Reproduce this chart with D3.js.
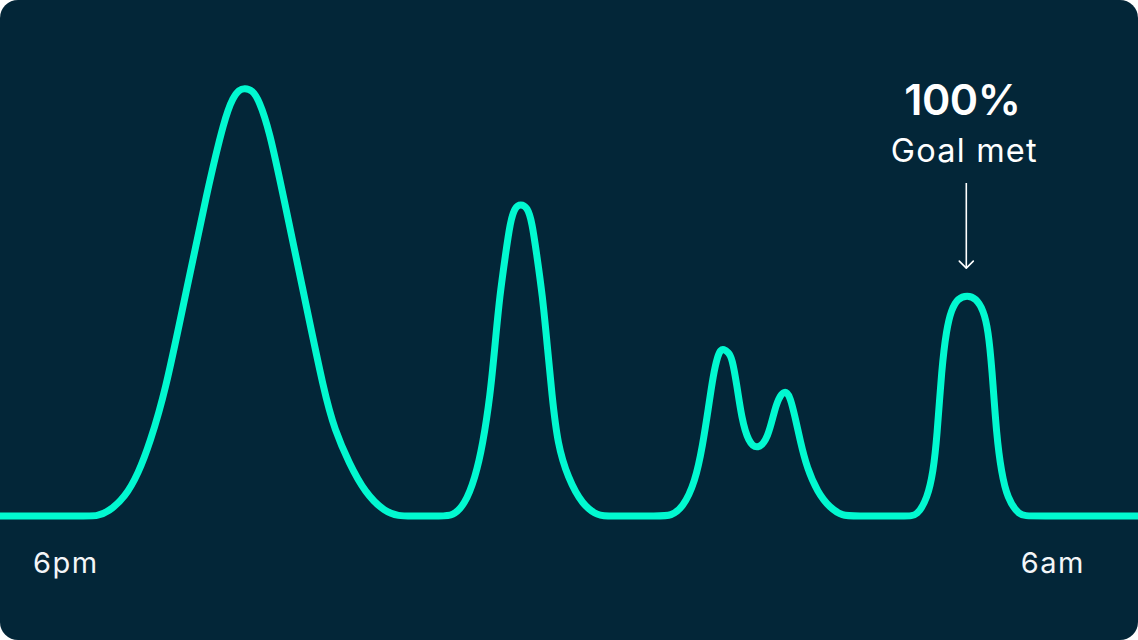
<!DOCTYPE html>
<html>
<head>
<meta charset="utf-8">
<script src="https://cdn.jsdelivr.net/npm/d3@7/dist/d3.min.js"></script>
<style>
  html, body { margin: 0; padding: 0; background: #ffffff; }
  svg { display: block; }
  text { font-family: Inter, "Noto Sans", sans-serif; }
</style>
</head>
<body>
<svg id="chart" width="1138" height="640"></svg>
<script>
// Hours after 6pm
const hours = [
  0.00, 0.92, 1.02, 1.14, 1.32, 1.46, 1.58, 1.74, 1.96, 2.18, 2.37, 2.46, 2.52, 2.58, 2.66, 2.73, 2.84, 2.99, 3.21, 3.42, 3.53, 3.68, 3.85, 4.06, 4.21, 4.31,
  4.67, 4.77, 4.90, 5.01, 5.09, 5.17, 5.22, 5.27, 5.33, 5.38, 5.43, 5.49, 5.56, 5.61, 5.66, 5.72, 5.77, 5.82, 5.88, 5.99, 6.14, 6.31, 6.41,
  6.97, 7.07, 7.20, 7.33, 7.41, 7.47, 7.52, 7.57, 7.60, 7.63, 7.68, 7.72, 7.77, 7.82, 7.89, 7.99, 8.10, 8.17, 8.23, 8.27, 8.30, 8.33, 8.38, 8.44, 8.51, 8.62, 8.75, 8.89, 8.99,
  9.57, 9.67, 9.78, 9.84, 9.88, 9.93, 9.98, 10.03, 10.10, 10.20, 10.29, 10.37, 10.42, 10.46, 10.51, 10.56, 10.62, 10.75, 10.85, 12.00
];
// Activity level (relative, highest peak = 100)
const levels = [
  0, 0, 0, 0.9, 4.4, 10.0, 17.1, 28.7, 52.1, 75.5, 93.2, 97.9, 99.6, 100, 99.5, 97.2, 90.2, 74.5, 51.2, 28.7, 20.1, 12.4, 5.4, 0.9, 0, 0,
  0, 0, 2.6, 8.9, 16.6, 28.3, 40.0, 51.6, 61.0, 68.7, 72.2, 72.9, 72.2, 68.7, 61.0, 51.6, 40.0, 28.3, 16.6, 8.9, 2.6, 0, 0,
  0, 0, 1.9, 7.9, 16.6, 25.2, 32.9, 37.6, 38.8, 39.0, 38.3, 36.9, 30.6, 22.9, 17.3, 15.4, 18.2, 25.2, 28.3, 29.0, 28.8, 27.8, 23.6, 17.3, 11.2, 5.6, 1.9, 0, 0,
  0, 0, 4.2, 10.3, 18.2, 34.6, 43.5, 48.1, 50.9, 51.6, 50.9, 48.1, 43.5, 34.6, 18.2, 10.3, 4.2, 0, 0, 0
];
const tickHours = [0, 12];
const tickLabels = ["6pm", "6am"];
const goalHour = 10.20;
const goalLevel = 51.6;
const goalValue = "100%";
const goalText = "Goal met";

const W = 1138, H = 640;
const svg = d3.select("#chart");

svg.append("rect")
  .attr("x", 0).attr("y", 0).attr("width", W).attr("height", H)
  .attr("rx", 18).attr("ry", 18)
  .attr("fill", "#032638");

const x = d3.scaleLinear().domain([0, 12]).range([0, W]);
const y = d3.scaleLinear().domain([0, 100]).range([516, 88]);

const data = hours.map((h, i) => ({ h, v: levels[i] }));

const line = d3.line()
  .x(d => x(d.h))
  .y(d => y(d.v))
  .curve(d3.curveBasis);

svg.append("path")
  .datum(data)
  .attr("d", line)
  .attr("fill", "none")
  .attr("stroke", "#02f8d0")
  .attr("stroke-width", 7)
  .attr("stroke-linejoin", "round")
  .attr("stroke-linecap", "butt");

// tick labels
const labelScale = d3.scaleLinear().domain([0, 12]).range([33, 1085]);
svg.selectAll("text.tick")
  .data(tickHours)
  .enter().append("text")
  .attr("class", "tick")
  .attr("x", d => labelScale(d))
  .attr("y", 573)
  .attr("text-anchor", (d, i) => i === 0 ? "start" : "end")
  .attr("fill", "#f4f6f8")
  .attr("font-size", 29)
  .attr("letter-spacing", 1.5)
  .text((d, i) => tickLabels[i]);

// annotation
const gx = x(goalHour);
const gy = y(goalLevel);
svg.append("text")
  .attr("x", gx - 5).attr("y", 115)
  .attr("text-anchor", "middle")
  .attr("fill", "#ffffff")
  .attr("font-size", 43)
  .attr("font-weight", 600)
  .attr("letter-spacing", -0.5)
  .text(goalValue);
svg.append("text")
  .attr("x", gx - 3).attr("y", 162)
  .attr("text-anchor", "middle")
  .attr("fill", "#ffffff")
  .attr("font-size", 32.5)
  .attr("letter-spacing", 1.2)
  .text(goalText);

const ax = gx - 1;
const arrowTop = 183, arrowBottom = gy - 27;
svg.append("line")
  .attr("x1", ax).attr("x2", ax)
  .attr("y1", arrowTop).attr("y2", arrowBottom)
  .attr("stroke", "#ffffff").attr("stroke-width", 1.6);
svg.append("path")
  .attr("d", `M${ax - 7},${arrowBottom - 7} L${ax},${arrowBottom} L${ax + 7},${arrowBottom - 7}`)
  .attr("fill", "none")
  .attr("stroke", "#ffffff").attr("stroke-width", 1.6)
  .attr("stroke-linecap", "round").attr("stroke-linejoin", "round");
</script>
</body>
</html>
